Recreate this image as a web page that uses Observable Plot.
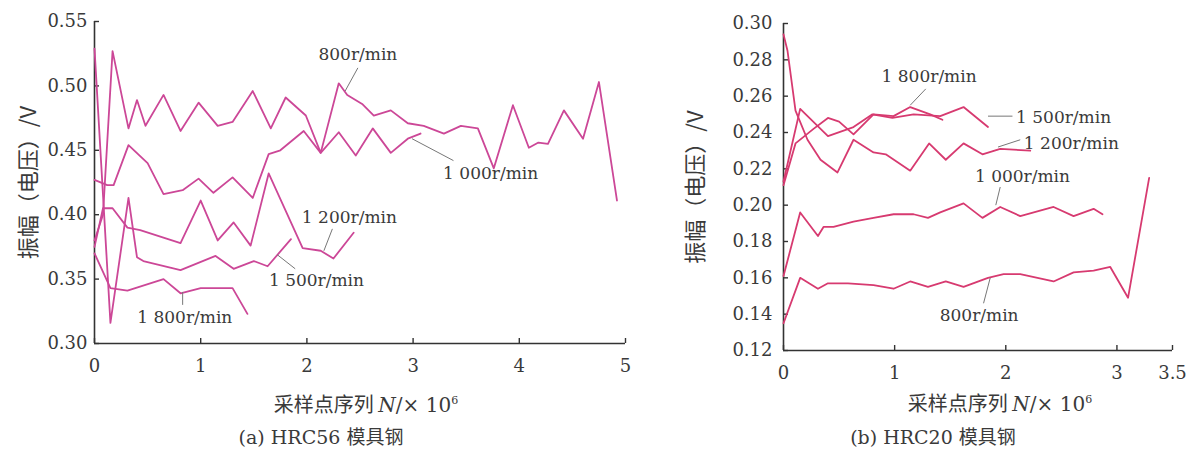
<!DOCTYPE html>
<html><head><meta charset="utf-8">
<script src="https://cdn.jsdelivr.net/npm/d3@7"></script>
<script src="https://cdn.jsdelivr.net/npm/@observablehq/plot@0.6"></script>
<style>
body{margin:0;background:#fff;width:1193px;height:458px;overflow:hidden;position:relative;}
#a,#b{position:absolute;top:0;}
#a{left:0px} #b{left:650px}
.cap{position:absolute;top:422px;font-family:"DejaVu Serif","Noto Sans CJK SC",serif;font-size:19px;color:#3a3a3a;white-space:nowrap;transform:translateX(-50%);}
</style></head><body>
<div id="a"></div><div id="b"></div>
<div class="cap" style="left:321px">(a) HRC56 模具钢</div>
<div class="cap" style="left:933px">(b) HRC20 模具钢</div>
<script>
// ---------- Panel (a) HRC56 ----------
const A800x = [0, 0.08, 0.17, 0.32, 0.40, 0.48, 0.65, 0.81, 0.98, 1.16, 1.30, 1.49, 1.66, 1.80, 1.99, 2.13, 2.30, 2.38, 2.52, 2.63, 2.79, 2.95, 3.10, 3.29, 3.45, 3.61, 3.76, 3.94, 4.09, 4.18, 4.27, 4.42, 4.60, 4.75, 4.92];
const A800y = [0.38, 0.40, 0.527, 0.467, 0.489, 0.469, 0.493, 0.465, 0.487, 0.469, 0.472, 0.496, 0.467, 0.491, 0.477, 0.448, 0.502, 0.493, 0.486, 0.477, 0.481, 0.471, 0.469, 0.463, 0.469, 0.467, 0.436, 0.485, 0.452, 0.456, 0.455, 0.481, 0.459, 0.503, 0.411];
const A1000x = [0, 0.12, 0.18, 0.32, 0.50, 0.65, 0.83, 0.98, 1.12, 1.30, 1.49, 1.64, 1.75, 1.97, 2.13, 2.30, 2.46, 2.62, 2.79, 2.95, 3.07];
const A1000y = [0.427, 0.423, 0.423, 0.454, 0.440, 0.416, 0.419, 0.428, 0.417, 0.429, 0.413, 0.447, 0.450, 0.465, 0.448, 0.464, 0.446, 0.467, 0.448, 0.459, 0.463];
const A1200x = [0, 0.08, 0.17, 0.31, 0.43, 0.81, 1.00, 1.16, 1.31, 1.47, 1.64, 1.96, 2.13, 2.25, 2.44];
const A1200y = [0.375, 0.405, 0.405, 0.390, 0.388, 0.378, 0.411, 0.380, 0.394, 0.376, 0.432, 0.374, 0.372, 0.366, 0.386];
const A1500x = [0, 0.15, 0.32, 0.40, 0.46, 0.81, 1.14, 1.31, 1.50, 1.63, 1.85];
const A1500y = [0.529, 0.316, 0.413, 0.367, 0.364, 0.357, 0.368, 0.358, 0.364, 0.360, 0.381];
const A1800x = [0, 0.15, 0.31, 0.65, 0.81, 1.00, 1.30, 1.44];
const A1800y = [0.370, 0.343, 0.341, 0.350, 0.339, 0.343, 0.343, 0.323];

const labelsA = ["800r/min", "1 000r/min", "1 200r/min", "1 500r/min", "1 800r/min"];
const labelXA = [2.48, 3.73, 2.40, 2.09, 0.85];
const labelYA = [0.524, 0.432, 0.398, 0.349, 0.320];
const leadX1A = [2.48, 3.38, 2.24, 1.72, 0.83];
const leadY1A = [0.514, 0.442, 0.389, 0.369, 0.340];
const leadX2A = [2.36, 2.99, 2.16, 1.89, 0.83];
const leadY2A = [0.496, 0.459, 0.372, 0.358, 0.330];

const xTicksA = [0, 1, 2, 3, 4, 5];
const yTicksA = [0.30, 0.35, 0.40, 0.45, 0.50, 0.55];

// ---------- Panel (b) HRC20 ----------
const B800x = [0, 0.15, 0.31, 0.40, 0.58, 0.81, 0.99, 1.14, 1.30, 1.46, 1.62, 1.84, 1.98, 2.13, 2.43, 2.61, 2.79, 2.94, 3.10, 3.29];
const B800y = [0.135, 0.160, 0.154, 0.157, 0.157, 0.156, 0.154, 0.158, 0.155, 0.158, 0.155, 0.160, 0.162, 0.162, 0.158, 0.163, 0.164, 0.166, 0.149, 0.215];
const B1000x = [0, 0.15, 0.31, 0.36, 0.45, 0.63, 0.81, 0.99, 1.17, 1.30, 1.41, 1.62, 1.79, 1.95, 2.13, 2.43, 2.61, 2.79, 2.87];
const B1000y = [0.161, 0.196, 0.183, 0.188, 0.188, 0.191, 0.193, 0.195, 0.195, 0.193, 0.196, 0.201, 0.193, 0.199, 0.194, 0.199, 0.194, 0.198, 0.195];
const B1200x = [0, 0.036, 0.108, 0.216, 0.333, 0.486, 0.63, 0.81, 0.92, 1.14, 1.31, 1.46, 1.62, 1.79, 1.95, 2.22];
const B1200y = [0.294, 0.285, 0.252, 0.236, 0.225, 0.218, 0.236, 0.229, 0.228, 0.219, 0.234, 0.225, 0.234, 0.228, 0.231, 0.230];
const B1500x = [0, 0.15, 0.40, 0.63, 0.80, 0.98, 1.17, 1.41, 1.62, 1.84];
const B1500y = [0.213, 0.253, 0.238, 0.243, 0.250, 0.248, 0.250, 0.249, 0.254, 0.243];
const B1800x = [0, 0.108, 0.27, 0.40, 0.50, 0.63, 0.81, 0.99, 1.14, 1.32, 1.43];
const B1800y = [0.211, 0.234, 0.242, 0.248, 0.246, 0.239, 0.250, 0.249, 0.254, 0.250, 0.247];

const labelsB = ["1 800r/min", "1 500r/min", "1 200r/min", "1 000r/min", "800r/min"];
const labelXB = [1.31, 2.52, 2.59, 2.15, 1.76];
const labelYB = [0.271, 0.248, 0.234, 0.216, 0.139];
const leadX1B = [1.28, 1.84, 1.93, 1.95, 1.86];
const leadY1B = [0.264, 0.249, 0.232, 0.210, 0.160];
const leadX2B = [1.14, 2.06, 2.13, 1.91, 1.80];
const leadY2B = [0.255, 0.249, 0.236, 0.200, 0.146];

const xTicksB = [0, 1, 2, 3, 3.5];
const yTicksB = [0.12, 0.14, 0.16, 0.18, 0.20, 0.22, 0.24, 0.26, 0.28, 0.30];

const yLabel = "振幅（电压）/V";

function pts(xs, ys, s) { return xs.map((x, i) => ({x, y: ys[i], s})); }
function links(x1, y1, x2, y2) { return x1.map((d, i) => ({x1: d, y1: y1[i], x2: x2[i], y2: y2[i]})); }
function texts(l, x, y) { return l.map((t, i) => ({t, x: x[i], y: y[i]})); }

const seriesA = [pts(A800x, A800y, "800"), pts(A1000x, A1000y, "1000"), pts(A1200x, A1200y, "1200"), pts(A1500x, A1500y, "1500"), pts(A1800x, A1800y, "1800")].flat();
const seriesB = [pts(B800x, B800y, "800"), pts(B1000x, B1000y, "1000"), pts(B1200x, B1200y, "1200"), pts(B1500x, B1500y, "1500"), pts(B1800x, B1800y, "1800")].flat();

const font = "'DejaVu Serif', 'Noto Sans CJK SC', serif";

function panel(cfg) {
  const svg = Plot.plot({
    width: cfg.width, height: 420,
    marginLeft: cfg.ml, marginRight: cfg.mr, marginTop: cfg.mt, marginBottom: cfg.mb,
    x: {domain: cfg.xd},
    y: {domain: cfg.yd},
    style: {fontFamily: font, fontSize: "18px", color: "#3a3a3a", background: "transparent", overflow: "visible"},
    marks: [
      Plot.ruleX([cfg.xd[0]], {stroke: "#333", strokeWidth: 1.6}),
      Plot.ruleY([cfg.yd[0]], {stroke: "#333", strokeWidth: 1.6}),
      Plot.axisX({ticks: cfg.xt, tickSize: -5, tickPadding: 21, stroke: "#333", strokeWidth: 1.4, tickFormat: cfg.xf,
        label: "采样点序列 N/× 10", labelAnchor: "center", labelOffset: cfg.xlo, labelArrow: "none"}),
      Plot.axisY({ticks: cfg.yt, tickSize: -5, tickPadding: cfg.ytp, stroke: "#333", strokeWidth: 1.4, tickFormat: d3.format(".2f"),
        label: yLabel, labelAnchor: "center", labelOffset: cfg.ylo, labelArrow: "none"}),
      Plot.line(cfg.data, {x: "x", y: "y", z: "s", stroke: cfg.color, strokeWidth: 1.8, strokeLinejoin: "round"}),
      Plot.link(cfg.links, {x1: "x1", y1: "y1", x2: "x2", y2: "y2", stroke: "#777", strokeWidth: 1}),
      Plot.text(cfg.texts, {x: "x", y: "y", text: "t", fill: "#3a3a3a", fontSize: 17, textAnchor: "middle"})
    ]
  });
  const s = d3.select(svg);
  const xl = s.select("g[aria-label='x-axis label'] text");
  xl.text(null).style("font-size", "20px").attr("dx", cfg.xldx);
  xl.append("tspan").attr("font-family", "'Noto Sans CJK SC'").text("采样点序列 ");
  xl.append("tspan").attr("font-style", "italic").text("N");
  xl.append("tspan").text("/× 10");
  xl.append("tspan").style("font-size", "11px").attr("dy", "-0.7em").text("6");
  s.select("g[aria-label='y-axis label'] text").style("font-size", "22px").style("font-family", "'Noto Sans CJK SC', 'DejaVu Serif'");
  return svg;
}

document.getElementById("a").append(panel({
  width: 650, ml: 94, mr: 25, mt: 21, mb: 77, xd: [0, 5], yd: [0.30, 0.55],
  xt: xTicksA, yt: yTicksA, xf: d => String(d), ytp: 12, xlo: 68, ylo: 74, xldx: 6,
  data: seriesA, color: "#cc4797",
  links: links(leadX1A, leadY1A, leadX2A, leadY2A), texts: texts(labelsA, labelXA, labelYA)
}));
document.getElementById("b").append(panel({
  width: 543, ml: 133, mr: 21, mt: 23, mb: 70, xd: [0, 3.5], yd: [0.12, 0.30],
  xt: xTicksB, yt: yTicksB, xf: d => String(d), ytp: 16, xlo: 60, ylo: 96, xldx: 22,
  data: seriesB, color: "#d73a70",
  links: links(leadX1B, leadY1B, leadX2B, leadY2B), texts: texts(labelsB, labelXB, labelYB)
}));
</script>
</body></html>
